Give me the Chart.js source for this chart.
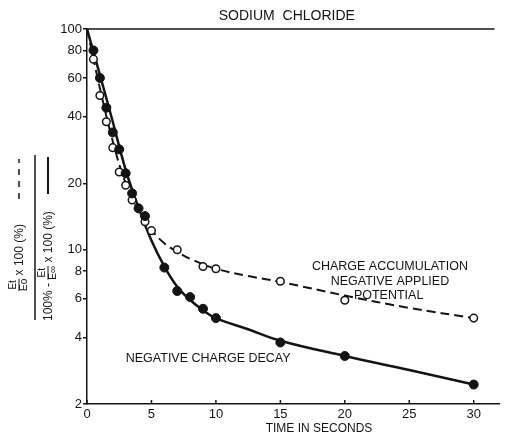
<!DOCTYPE html>
<html>
<head>
<meta charset="utf-8">
<script src="https://cdn.jsdelivr.net/npm/chart.js@4.4.0/dist/chart.umd.min.js"></script>
<style>
  html, body { margin: 0; padding: 0; background: #fff; }
  #wrap { width: 505px; height: 436px; position: relative; }
</style>
</head>
<body>
<div id="wrap"><canvas id="chart"></canvas></div>
<script>
// values (time in s, percent on log axis)
const decayTimes = [0.5, 1, 1.5, 2, 2.5, 3, 3.5, 4, 4.5, 6, 7, 8, 9, 10, 15, 20, 30];
const decayValues = [80, 60, 44, 34, 28.5, 22.2, 18, 15.4, 14.2, 8.3, 6.5, 6.1, 5.4, 4.9, 3.8, 3.3, 2.45];

const accumTimes = [0.5, 1, 1.5, 2, 2.5, 3, 3.5, 4.5, 5, 7, 9, 10, 15, 20, 30];
const accumValues = [73, 50, 38, 29, 22.5, 19.6, 16.8, 13.4, 12.2, 10, 8.4, 8.2, 7.2, 5.9, 4.9];

// hand-drawn fitted curves
const decayCurveT = [0, 1, 2, 3, 4, 5, 6, 7, 8, 9, 10, 12.5, 15, 20, 25, 30];
const decayCurveV = [100, 62, 38, 23, 15.5, 11, 8.4, 6.8, 5.92, 5.32, 4.9, 4.36, 3.87, 3.3, 2.85, 2.45];
const accumCurveT = [0, 1, 2, 3, 4, 5, 6, 7, 8, 10, 12.5, 15, 20, 25, 30];
const accumCurveV = [100, 54, 31, 20, 15, 12.3, 10.7, 9.8, 9.1, 8.2, 7.6, 7.15, 6.2, 5.45, 4.9];

const xTicks = [0, 5, 10, 15, 20, 25, 30];
const yTicks = [2, 4, 6, 8, 10, 20, 40, 60, 80, 100];

const ink = '#141414';
const pts = (t, v) => t.map((x, i) => ({ x: x, y: v[i] }));

const extras = {
    id: 'extras',
    afterDraw(chart) {
        const { ctx, chartArea, scales } = chart;
        const x = scales.x, y = scales.y;
        ctx.save();
        ctx.strokeStyle = ink;
        ctx.fillStyle = ink;
        ctx.lineWidth = 1.5;
        // top frame line
        ctx.beginPath();
        ctx.moveTo(chartArea.left, chartArea.top);
        ctx.lineTo(chartArea.right - 5, chartArea.top);
        ctx.stroke();
        // x ticks point inward
        xTicks.forEach(v => {
            const px = x.getPixelForValue(v);
            ctx.beginPath();
            ctx.moveTo(px, chartArea.bottom);
            ctx.lineTo(px, chartArea.bottom - 4);
            ctx.stroke();
        });

        ctx.textAlign = 'center';
        ctx.textBaseline = 'middle';
        ctx.font = '14px "Liberation Sans", Arial, sans-serif';
        ctx.fillText('SODIUM  CHLORIDE', x.getPixelForValue(15.5), 16);
        ctx.font = '12px "Liberation Sans", Arial, sans-serif';
        ctx.fillText('TIME IN SECONDS', x.getPixelForValue(18), 429);
        ctx.font = '12.5px "Liberation Sans", Arial, sans-serif';
        ctx.fillText('CHARGE ACCUMULATION', x.getPixelForValue(23.5), y.getPixelForValue(8.4));
        ctx.fillText('NEGATIVE APPLIED', x.getPixelForValue(23.5), y.getPixelForValue(7.2));
        ctx.fillText('POTENTIAL', x.getPixelForValue(23.4), y.getPixelForValue(6.2));
        ctx.fillText('NEGATIVE CHARGE DECAY', x.getPixelForValue(9.4), y.getPixelForValue(3.2));

        // y axis title, a rotated fraction
        const frac = (num, den, lx) => {
            ctx.font = '10px "Liberation Sans", Arial, sans-serif';
            const w = Math.max(ctx.measureText(num).width, ctx.measureText(den).width);
            ctx.textAlign = 'center';
            ctx.fillText(num, lx + w / 2, -5.5);
            ctx.fillText(den, lx + w / 2, 5.5);
            ctx.lineWidth = 1;
            ctx.beginPath();
            ctx.moveTo(lx, 0);
            ctx.lineTo(lx + w, 0);
            ctx.stroke();
            ctx.textAlign = 'left';
            return lx + w;
        };
        ctx.textBaseline = 'middle';
        // numerator column
        ctx.save();
        ctx.translate(19, 291);
        ctx.rotate(-Math.PI / 2);
        let lx = frac('Et', 'Eo', 0);
        ctx.font = '12px "Liberation Sans", Arial, sans-serif';
        ctx.textAlign = 'left';
        ctx.fillText(' x 100 (%)', lx, 1);
        ctx.lineWidth = 1.5;
        ctx.setLineDash([6, 6]);
        ctx.beginPath();
        ctx.moveTo(92, 0);
        ctx.lineTo(132, 0);
        ctx.stroke();
        ctx.restore();
        // fraction bar
        ctx.lineWidth = 1.5;
        ctx.beginPath();
        ctx.moveTo(35, 155);
        ctx.lineTo(35, 320);
        ctx.stroke();
        // denominator column
        ctx.save();
        ctx.translate(48, 321);
        ctx.rotate(-Math.PI / 2);
        ctx.font = '12px "Liberation Sans", Arial, sans-serif';
        ctx.textAlign = 'left';
        ctx.fillText('100% - ', 0, 1);
        lx = frac('Et', 'E\u221E', ctx.measureText('100% - ').width);
        ctx.font = '12px "Liberation Sans", Arial, sans-serif';
        ctx.fillText(' x 100 (%)', lx, 1);
        ctx.lineWidth = 2;
        ctx.beginPath();
        ctx.moveTo(127, 0);
        ctx.lineTo(164, 0);
        ctx.stroke();
        ctx.restore();
        ctx.restore();
    }
};

new Chart(document.getElementById('chart'), {
    type: 'scatter',
    data: {
        datasets: [{
            label: 'Negative charge decay (curve)',
            type: 'line',
            data: pts(decayCurveT, decayCurveV),
            borderColor: ink,
            borderWidth: 2.5,
            pointRadius: 0,
            tension: 0.4,
            order: 2
        }, {
            label: 'Charge accumulation (curve)',
            type: 'line',
            data: pts(accumCurveT, accumCurveV),
            borderColor: ink,
            borderWidth: 2,
            borderDash: [9, 5],
            pointRadius: 0,
            tension: 0.4,
            order: 2
        }, {
            label: 'Negative charge decay',
            data: pts(decayTimes, decayValues),
            pointRadius: 4.5,
            backgroundColor: ink,
            borderColor: ink,
            order: 0
        }, {
            label: 'Charge accumulation',
            data: pts(accumTimes, accumValues),
            pointRadius: 3.8,
            backgroundColor: '#fff',
            borderColor: ink,
            borderWidth: 1.5,
            order: 1
        }]
    },
    options: {
        responsive: true,
        maintainAspectRatio: false,
        animation: false,
        layout: { padding: { top: 29, right: 0, bottom: 0, left: 0 } },
        plugins: {
            legend: { display: false },
            tooltip: { enabled: false }
        },
        scales: {
            x: {
                type: 'linear',
                min: 0,
                max: 32,
                afterBuildTicks: s => { s.ticks = xTicks.map(v => ({ value: v })); },
                afterFit: s => { s.height = 32; },
                grid: { display: false, drawTicks: false },
                border: { display: true, color: ink, width: 1.5 },
                ticks: { color: ink, padding: 3, font: { size: 13, family: '"Liberation Sans", Arial, sans-serif' } }
            },
            y: {
                type: 'logarithmic',
                min: 2,
                max: 100,
                afterBuildTicks: s => { s.ticks = yTicks.map(v => ({ value: v })); },
                afterFit: s => { s.width = 87; },
                grid: { drawOnChartArea: false, drawTicks: true, tickLength: 4, color: ink, lineWidth: 1.5 },
                border: { display: true, color: ink, width: 1.5 },
                ticks: {
                    color: ink,
                    padding: 1,
                    font: { size: 13, family: '"Liberation Sans", Arial, sans-serif' },
                    callback: v => String(v)
                }
            }
        }
    },
    plugins: [extras]
});
</script>
</body>
</html>
